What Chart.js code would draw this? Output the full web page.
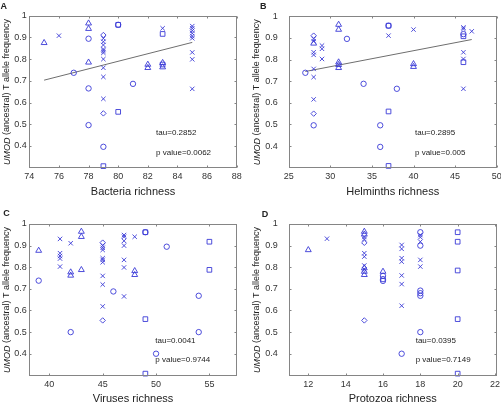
<!DOCTYPE html>
<html>
<head>
<meta charset="utf-8">
<script src="https://cdn.jsdelivr.net/npm/chart.js@4.4.1/dist/chart.umd.min.js"></script>
<style>
  body { margin: 0; background: #fff; width: 501px; height: 407px; overflow: hidden; position: relative; }
  canvas { position: absolute; }
</style>
</head>
<body>
<canvas id="panelA" width="250" height="204" style="left:0;top:0"></canvas>
<canvas id="panelB" width="251" height="204" style="left:250px;top:0"></canvas>
<canvas id="panelC" width="250" height="203" style="left:0;top:204px"></canvas>
<canvas id="panelD" width="251" height="203" style="left:250px;top:204px"></canvas>
<script>
// frequency ticks shared by all panels
const yTicks = [0.4, 0.5, 0.6, 0.7, 0.8, 0.9, 1];

// A - bacteria richness
const bacteriaTicks = [74, 76, 78, 80, 82, 84, 86, 88];
const bacteriaTri = [[75, 0.875], [78, 0.965], [78, 0.94], [78, 0.785], [82, 0.775], [82, 0.76], [83, 0.783], [83, 0.763]];
const bacteriaCirc = [[77, 0.737], [78, 0.894], [78, 0.665], [78, 0.496], [79, 0.396], [80, 0.958], [81, 0.686]];
const bacteriaSq = [[79, 0.307], [80, 0.557], [80, 0.958], [83, 0.916], [83, 0.775]];
const bacteriaDia = [[79, 0.911], [79, 0.55]];
const bacteriaX = [[76, 0.908], [79, 0.895], [79, 0.88], [79, 0.865], [79, 0.846], [79, 0.838], [79, 0.829], [79, 0.8],
  [79, 0.76], [79, 0.718], [79, 0.617], [83, 0.942], [85, 0.952], [85, 0.942], [85, 0.931], [85, 0.919], [85, 0.906],
  [85, 0.896], [85, 0.831], [85, 0.799], [85, 0.663]];
const bacteriaFit = [[75, 0.703], [85, 0.877]];

// B - helminths richness
const helminthsTicks = [25, 30, 35, 40, 45, 50];
const helminthsTri = [[28, 0.875], [31, 0.962], [31, 0.939], [31, 0.788], [31, 0.776], [31, 0.762], [40, 0.78], [40, 0.767]];
const helminthsCirc = [[27, 0.739], [28, 0.496], [32, 0.896], [34, 0.688], [36, 0.496], [36, 0.396], [37, 0.957], [38, 0.665], [46, 0.918]];
const helminthsSq = [[37, 0.957], [37, 0.56], [37, 0.308], [46, 0.908], [46, 0.788]];
const helminthsDia = [[28, 0.911], [28, 0.55]];
const helminthsX = [[28, 0.896], [28, 0.885], [28, 0.834], [28, 0.822], [28, 0.757], [28, 0.719], [28, 0.616], [29, 0.865],
  [29, 0.85], [29, 0.803], [37, 0.911], [40, 0.939], [46, 0.949], [46, 0.942], [46, 0.834], [46, 0.803], [46, 0.665], [47, 0.931]];
const helminthsFit = [[27, 0.745], [47, 0.893]];

// C - viruses richness
const virusesTicks = [40, 45, 50, 55];
const virusesTri = [[39, 0.877], [42, 0.777], [42, 0.762], [43, 0.965], [43, 0.941], [43, 0.788], [48, 0.783], [48, 0.765]];
const virusesCirc = [[39, 0.738], [42, 0.5], [46, 0.688], [49, 0.962], [50, 0.4], [51, 0.895], [54, 0.668], [54, 0.5]];
const virusesSq = [[49, 0.962], [49, 0.56], [49, 0.308], [55, 0.918], [55, 0.788]];
const virusesDia = [[45, 0.914], [45, 0.554]];
const virusesX = [[41, 0.931], [41, 0.865], [41, 0.852], [41, 0.84], [41, 0.803], [42, 0.911], [45, 0.9], [45, 0.89],
  [45, 0.88], [45, 0.842], [45, 0.834], [45, 0.823], [45, 0.76], [45, 0.72], [45, 0.619], [47, 0.949], [47, 0.941],
  [47, 0.922], [47, 0.9], [47, 0.834], [47, 0.799], [47, 0.665], [48, 0.941]];

// D - protozoa richness
const protozoaTicks = [12, 14, 16, 18, 20, 22];
const protozoaTri = [[12, 0.88], [15, 0.965], [15, 0.952], [15, 0.796], [15, 0.78], [15, 0.765], [16, 0.78]];
const protozoaCirc = [[16, 0.76], [16, 0.745], [16, 0.737], [17, 0.4], [18, 0.962], [18, 0.9], [18, 0.692], [18, 0.68], [18, 0.668], [18, 0.5]];
const protozoaSq = [[20, 0.962], [20, 0.918], [20, 0.785], [20, 0.56], [20, 0.308]];
const protozoaDia = [[15, 0.913], [15, 0.554]];
const protozoaX = [[13, 0.932], [15, 0.94], [15, 0.93], [15, 0.865], [15, 0.849], [15, 0.808], [15, 0.79], [17, 0.903],
  [17, 0.885], [17, 0.842], [17, 0.826], [17, 0.762], [17, 0.722], [17, 0.622], [18, 0.949], [18, 0.939], [18, 0.918],
  [18, 0.834], [18, 0.803]];

const markerColor = 'rgb(58,58,215)';
Chart.defaults.font.family = '"Liberation Sans", Arial, sans-serif';

function pts(arr) {
  return arr.map(([x, y]) => ({x, y}));
}

function markerSet(data, style, radius) {
  return {
    data: pts(data), pointStyle: style, pointRadius: radius, pointHoverRadius: radius,
    pointBorderColor: markerColor, pointBackgroundColor: 'rgba(0,0,0,0)', pointBorderWidth: 0.9,
    showLine: false, clip: false
  };
}

function fitSet(data) {
  return {data: pts(data), showLine: true, borderColor: '#6e6e6e', borderWidth: 1, pointRadius: 0, clip: false};
}

// box, inward tick marks, letter, y title and the tau / p notes
const framePlugin = {
  id: 'frame',
  afterDraw(chart, args, opts) {
    const {ctx, chartArea: a, scales: {x, y}} = chart;
    const L = Math.round(a.left) + 0.5, R = Math.round(a.right) - 0.5;
    const T = Math.round(a.top) + 0.5, B = Math.round(a.bottom) - 0.5;
    ctx.save();
    ctx.strokeStyle = '#858585';
    ctx.lineWidth = 1;
    ctx.strokeRect(L, T, R - L, B - T);
    ctx.beginPath();
    x.ticks.forEach(t => {
      const px = Math.round(x.getPixelForValue(t.value)) + 0.5;
      ctx.moveTo(px, B); ctx.lineTo(px, B - 2);
      ctx.moveTo(px, T); ctx.lineTo(px, T + 2);
    });
    y.ticks.forEach(t => {
      const py = Math.round(y.getPixelForValue(t.value)) + 0.5;
      ctx.moveTo(L, py); ctx.lineTo(L + 2, py);
      ctx.moveTo(R, py); ctx.lineTo(R - 2, py);
    });
    ctx.stroke();

    ctx.fillStyle = '#222';
    ctx.textBaseline = 'middle';
    ctx.textAlign = 'left';
    ctx.font = '8px "Liberation Sans", Arial, sans-serif';
    opts.notes.forEach(n => {
      ctx.fillText(n.text, x.getPixelForValue(n.x), y.getPixelForValue(n.y));
    });

    ctx.font = 'bold 9px "Liberation Sans", Arial, sans-serif';
    ctx.textBaseline = 'alphabetic';
    ctx.fillText(opts.letter, opts.letterX, opts.letterY);

    // y title with italic gene name
    const italic = 'italic 9px "Liberation Sans", Arial, sans-serif';
    const plain = '9px "Liberation Sans", Arial, sans-serif';
    const rest = ' (ancestral) T allele frequency';
    ctx.font = italic;
    const w1 = ctx.measureText('UMOD').width;
    ctx.font = plain;
    const w2 = ctx.measureText(rest).width;
    ctx.translate(opts.titleX, (a.top + a.bottom) / 2);
    ctx.rotate(-Math.PI / 2);
    ctx.textBaseline = 'middle';
    ctx.font = italic;
    ctx.fillText('UMOD', -(w1 + w2) / 2, 0);
    ctx.font = plain;
    ctx.fillText(rest, -(w1 + w2) / 2 + w1, 0);
    ctx.restore();
  }
};

function makePanel(id, p) {
  const datasets = [
    markerSet(p.tri, 'triangle', 3.4),
    markerSet(p.circ, 'circle', 2.7),
    markerSet(p.sq, 'rect', 3.3),
    markerSet(p.dia, 'rectRot', 2.7),
    markerSet(p.cross, 'crossRot', 3.1)
  ];
  if (p.fit) datasets.push(fitSet(p.fit));

  new Chart(document.getElementById(id), {
    type: 'scatter',
    data: {datasets},
    options: {
      responsive: false,
      animation: false,
      events: [],
      layout: {padding: {left: 0, top: p.top, right: p.right, bottom: 0}},
      plugins: {
        legend: {display: false},
        tooltip: {enabled: false},
        frame: {letter: p.letter, letterX: p.letterX, letterY: p.letterY, titleX: 7, notes: p.notes}
      },
      scales: {
        x: {
          type: 'linear', min: p.xMin, max: p.xMax,
          grid: {display: false, drawTicks: false},
          border: {display: false},
          afterBuildTicks: s => { s.ticks = p.xTicks.map(v => ({value: v})); },
          afterFit: s => { s.height = p.xHeight; s.paddingLeft = 0; s.paddingRight = 0; },
          ticks: {font: {size: 9}, color: '#333', padding: 3, maxRotation: 0, autoSkip: false},
          title: {display: true, text: p.xTitle, font: {size: 11}, color: '#222', padding: {top: 0, bottom: p.titlePad}}
        },
        y: {
          type: 'linear', min: 0.297, max: 1,
          grid: {display: false, drawTicks: false},
          border: {display: false},
          afterBuildTicks: s => { s.ticks = yTicks.map(v => ({value: v})); },
          afterFit: s => { s.width = p.yWidth; },
          ticks: {font: {size: 9}, color: '#333', padding: p.yPad, callback: v => v === 1 ? '1' : v.toFixed(1)}
        }
      }
    },
    plugins: [framePlugin]
  });
}

makePanel('panelA', {
  tri: bacteriaTri, circ: bacteriaCirc, sq: bacteriaSq, dia: bacteriaDia, cross: bacteriaX, fit: bacteriaFit,
  xMin: 74, xMax: 88, xTicks: bacteriaTicks, xTitle: 'Bacteria richness',
  top: 15.7, right: 13.3, yWidth: 29.3, xHeight: 35.7, titlePad: 5.7, yPad: 2.5,
  letter: 'A', letterX: 0.5, letterY: 8.5,
  notes: [{x: 82.56, y: 0.46, text: 'tau=0.2852'}, {x: 82.56, y: 0.37, text: 'p value=0.0062'}]
});

makePanel('panelB', {
  tri: helminthsTri, circ: helminthsCirc, sq: helminthsSq, dia: helminthsDia, cross: helminthsX, fit: helminthsFit,
  xMin: 25, xMax: 50, xTicks: helminthsTicks, xTitle: 'Helminths richness',
  top: 15.7, right: 4.3, yWidth: 38.7, xHeight: 35.7, titlePad: 5.7, yPad: 11,
  letter: 'B', letterX: 10, letterY: 8.5,
  notes: [{x: 40.18, y: 0.46, text: 'tau=0.2895'}, {x: 40.18, y: 0.37, text: 'p value=0.005'}]
});

makePanel('panelC', {
  tri: virusesTri, circ: virusesCirc, sq: virusesSq, dia: virusesDia, cross: virusesX,
  xMin: 38.12, xMax: 57.56, xTicks: virusesTicks, xTitle: 'Viruses richness',
  top: 20, right: 13.3, yWidth: 29.3, xHeight: 31, titlePad: 1.1, yPad: 2.5,
  letter: 'C', letterX: 3.3, letterY: 12.3,
  notes: [{x: 49.93, y: 0.462, text: 'tau=0.0041'}, {x: 49.93, y: 0.373, text: 'p value=0.9744'}]
});

makePanel('panelD', {
  tri: protozoaTri, circ: protozoaCirc, sq: protozoaSq, dia: protozoaDia, cross: protozoaX,
  xMin: 10.95, xMax: 22.09, xTicks: protozoaTicks, xTitle: 'Protozoa richness',
  top: 20, right: 4.3, yWidth: 38.7, xHeight: 31, titlePad: 1.1, yPad: 11,
  letter: 'D', letterX: 11.7, letterY: 12.7,
  notes: [{x: 17.75, y: 0.462, text: 'tau=0.0395'}, {x: 17.75, y: 0.373, text: 'p value=0.7149'}]
});
</script>
</body>
</html>
